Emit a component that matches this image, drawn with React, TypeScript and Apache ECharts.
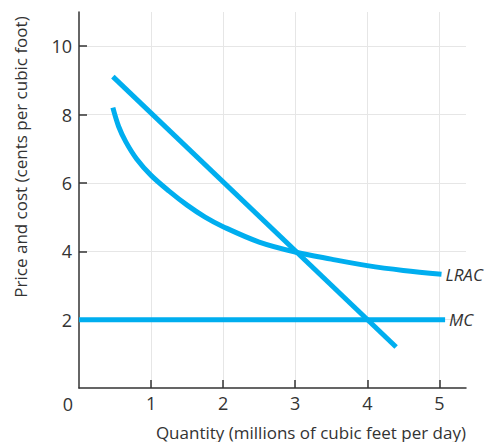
import React, { useEffect, useRef } from "react";
import * as echarts from "echarts";

// Quantity (millions of cubic feet per day) and price/cost (cents per cubic foot)
const xTicks = [1, 2, 3, 4, 5];
const yTicks = [2, 4, 6, 8, 10];

const demandQ = [0.47, 4.4];
const demandP = [9.11, 1.2];

const lracQ = [0.47, 0.55, 0.65, 0.8, 1.0, 1.25, 1.5, 1.75, 2.0, 2.5, 3.0, 3.5, 4.0, 4.5, 5.03];
const lracP = [8.2, 7.65, 7.2, 6.7, 6.22, 5.76, 5.35, 5.0, 4.72, 4.27, 3.98, 3.77, 3.58, 3.44, 3.33];

const mcQ = [0, 5.08];
const mcP = [2, 2];

const BLUE = "#00aeef";
const INK = "#333333";
const FONT = "'Open Sans'";

const zip = (xs: number[], ys: number[]) => xs.map((x, i) => [x, ys[i]]);

export default function App() {
  const ref = useRef<HTMLDivElement>(null);

  useEffect(() => {
    document.body.style.margin = "0";
    if (!ref.current) return;
    const chart = echarts.init(ref.current, null, { renderer: "svg" });

    const curveLabel = (text: string) => ({
      show: true,
      formatter: text,
      color: INK,
      fontFamily: FONT,
      fontStyle: "italic",
      fontSize: 17,
      distance: 4,
    });

    const demandData: any[] = zip(demandQ, demandP);
    const last = demandData.length - 1;
    demandData[last] = {
      value: demandData[last],
      label: {
        show: true,
        position: "bottom",
        offset: [10, -2],
        formatter: "D",
        color: INK,
        fontFamily: FONT,
        fontStyle: "italic",
        fontSize: 17,
      },
    };

    const tickStyle = { inside: true, length: 8, lineStyle: { color: INK, width: 1.5 } };
    const labelStyle = { color: INK, fontFamily: FONT, fontSize: 18 };
    const gridStyle = { show: true, lineStyle: { color: "#e6e6e6", width: 1 } };

    chart.setOption({
      animation: false,
      grid: { left: 79, right: 26, top: 12, bottom: 54 },
      xAxis: {
        type: "value",
        min: 0,
        max: 5.37,
        interval: 1,
        axisLine: { lineStyle: { color: INK, width: 1.5 } },
        axisTick: { ...tickStyle, customValues: xTicks },
        axisLabel: { ...labelStyle, margin: 6, customValues: xTicks },
        splitLine: gridStyle,
      },
      yAxis: {
        type: "value",
        min: 0,
        max: 11,
        interval: 2,
        axisLine: { show: true, lineStyle: { color: INK, width: 1.5 } },
        axisTick: { show: true, ...tickStyle, customValues: yTicks },
        axisLabel: { ...labelStyle, margin: 7, customValues: yTicks },
        splitLine: gridStyle,
      },
      graphic: [
        {
          type: "text",
          x: 68,
          y: 404,
          style: {
            text: "0",
            fill: INK,
            font: `18px ${FONT}`,
            textAlign: "center",
            textVerticalAlign: "middle",
          },
        },
        {
          type: "text",
          x: 466,
          y: 432,
          style: {
            text: "Quantity (millions of cubic feet per day)",
            fill: INK,
            font: `17px ${FONT}`,
            textAlign: "right",
            textVerticalAlign: "middle",
          },
        },
        {
          type: "text",
          x: 20,
          y: 157,
          rotation: Math.PI / 2,
          style: {
            text: "Price and cost (cents per cubic foot)",
            fill: INK,
            font: `17px ${FONT}`,
            textAlign: "center",
            textVerticalAlign: "middle",
          },
        },
      ],
      series: [
        {
          name: "MC",
          type: "line",
          data: zip(mcQ, mcP),
          symbol: "none",
          lineStyle: { color: BLUE, width: 5, cap: "butt" },
          endLabel: curveLabel("MC"),
        },
        {
          name: "LRAC",
          type: "line",
          data: zip(lracQ, lracP),
          symbol: "none",
          smooth: 0.35,
          lineStyle: { color: BLUE, width: 5, cap: "butt" },
          endLabel: curveLabel("LRAC"),
        },
        {
          name: "D",
          type: "line",
          data: demandData,
          symbol: "none",
          lineStyle: { color: BLUE, width: 5, cap: "butt" },
        },
      ],
    });

    return () => chart.dispose();
  }, []);

  return <div ref={ref} style={{ width: 492, height: 442 }} />;
}
